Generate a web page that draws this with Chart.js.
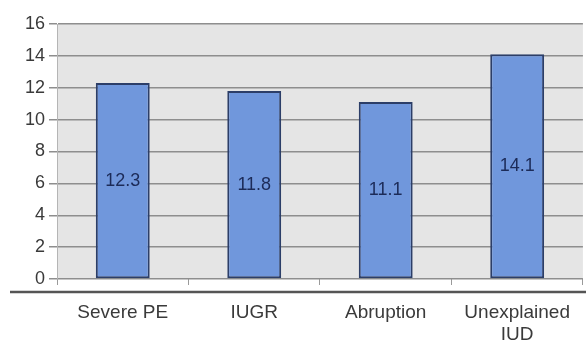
<!DOCTYPE html>
<html>
<head>
<meta charset="utf-8">
<script src="https://cdn.jsdelivr.net/npm/chart.js@4"></script>
<style>
  html, body { margin: 0; padding: 0; background: #ffffff; }
  #wrap { width: 586px; height: 345px; }
</style>
</head>
<body>
<div id="wrap"><canvas id="c" width="586" height="345"></canvas></div>
<script>
// Categories and values (%)
const categories = ['Severe PE', 'IUGR', 'Abruption', ['Unexplained', 'IUD']];
const rates = [12.3, 11.8, 11.1, 14.1];
const yTicks = [0, 2, 4, 6, 8, 10, 12, 14, 16];

// Grey plot background
const plotBackground = {
  id: 'plotBackground',
  beforeDraw(chart) {
    const { ctx, chartArea: a } = chart;
    ctx.save();
    ctx.fillStyle = '#e5e5e5';
    ctx.fillRect(a.left, a.top, a.right - a.left, a.bottom - a.top);
    ctx.restore();
  }
};

// Value labels centred inside each bar, plus the heavy rule under the axis
const barLabels = {
  id: 'barLabels',
  afterDatasetsDraw(chart) {
    const { ctx } = chart;
    const meta = chart.getDatasetMeta(0);
    ctx.save();
    ctx.font = '18px "Liberation Sans", Arial, sans-serif';
    ctx.fillStyle = '#1c2b58';
    ctx.textAlign = 'center';
    ctx.textBaseline = 'middle';
    meta.data.forEach((bar, i) => {
      const v = chart.data.datasets[0].data[i];
      ctx.fillText(v.toFixed(1), bar.x, (bar.y + bar.base) / 2);
    });
    ctx.restore();
  },
  afterDraw(chart) {
    const { ctx, chartArea: a } = chart;
    ctx.save();
    ctx.strokeStyle = '#555555';
    ctx.lineWidth = 2.5;
    ctx.beginPath();
    ctx.moveTo(10, a.bottom + 13);
    ctx.lineTo(chart.width, a.bottom + 13);
    ctx.stroke();
    ctx.restore();
  }
};

new Chart(document.getElementById('c'), {
  type: 'bar',
  data: {
    labels: categories,
    datasets: [{
      data: rates,
      backgroundColor: '#7097dc',
      borderColor: '#2c3e68',
      borderWidth: 2,
      borderSkipped: false,
      barPercentage: 0.41,
      categoryPercentage: 1
    }]
  },
  options: {
    responsive: false,
    animation: false,
    devicePixelRatio: 1,
    layout: { padding: { left: 21, right: 0, top: 24, bottom: 0 } },
    plugins: { legend: { display: false }, tooltip: { enabled: false } },
    scales: {
      x: {
        afterFit(scale) { scale.height = 66; },
        grid: { drawOnChartArea: false, drawTicks: true, tickLength: 6, color: '#9a9a9a', offset: true },
        border: { display: false },
        ticks: {
          color: '#3a3a3a',
          padding: 16,
          maxRotation: 0,
          autoSkip: false,
          font: { family: '"Liberation Sans", Arial, sans-serif', size: 19, lineHeight: 1.2 }
        }
      },
      y: {
        min: 0,
        max: 16,
        afterBuildTicks(scale) { scale.ticks = yTicks.map(v => ({ value: v })); },
        grid: { color: '#8e8e8e', lineWidth: 1.5, tickLength: 8 },
        border: { display: true, color: '#b5b5b5', width: 1 },
        ticks: {
          color: '#3a3a3a',
          padding: 4,
          font: { family: '"Liberation Sans", Arial, sans-serif', size: 18 }
        }
      }
    }
  },
  plugins: [plotBackground, barLabels]
});
</script>
</body>
</html>
